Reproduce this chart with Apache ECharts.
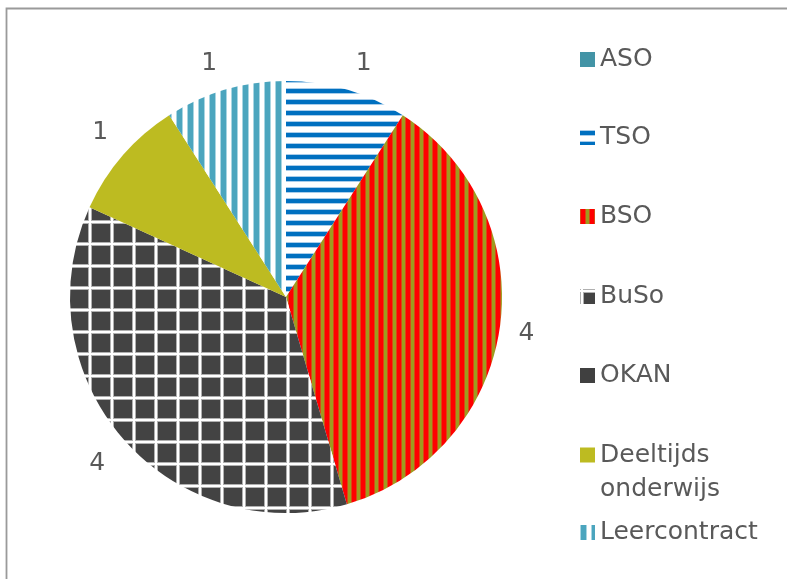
<!DOCTYPE html>
<html><head><meta charset="utf-8">
<script src="https://cdn.jsdelivr.net/npm/echarts@6/dist/echarts.min.js"></script>
<style>html,body{margin:0;padding:0;background:#fff}#c{width:787px;height:579px}</style>
</head><body><div id="c"></div>
<script>
// ---- data ----
const categories = ['ASO', 'TSO', 'BSO', 'BuSo', 'OKAN', 'Deeltijds onderwijs', 'Leercontract'];
const values = [0, 1, 4, 4, 0, 1, 1];
const legendLabels = ['ASO', 'TSO', 'BSO', 'BuSo', 'OKAN', ' \nDeeltijds\nonderwijs', 'Leercontract'];

// ---- patterns ----
function pat(w, h, draw) {
  const c = document.createElement('canvas');
  c.width = w; c.height = h;
  const g = c.getContext('2d');
  draw(g, w, h);
  return { image: c, repeat: 'repeat' };
}
const tsoPat = pat(8, 11, (g, w) => {
  g.fillStyle = '#fff'; g.fillRect(0, 0, w, 11);
  g.fillStyle = '#a9cdea'; g.fillRect(0, 0, w, 1); g.fillRect(0, 5, w, 1);
  g.fillStyle = '#0070C0'; g.fillRect(0, 1, w, 4);
});
const bsoPat = pat(9, 4, (g, w, h) => {
  g.fillStyle = '#9E9C1E'; g.fillRect(0, 0, w, h);
  g.fillStyle = '#FF0000'; g.fillRect(1, 0, 4, h);
  g.fillStyle = '#d84a14'; g.fillRect(0, 0, 1, h); g.fillRect(5, 0, 1, h);
});
const busoPat = pat(22, 22, (g) => {
  g.fillStyle = '#434343'; g.fillRect(0, 0, 22, 22);
  g.fillStyle = '#b0b0b0'; g.fillRect(0, 0, 4, 22); g.fillRect(0, 0, 22, 4);
  g.fillStyle = '#ffffff'; g.fillRect(1, 0, 2, 22); g.fillRect(0, 1, 22, 2);
});
const leerPat = pat(11, 4, (g, w, h) => {
  g.fillStyle = '#fff'; g.fillRect(0, 0, w, h);
  g.fillStyle = '#a8d5e2'; g.fillRect(0, 0, 1, h); g.fillRect(6, 0, 1, h);
  g.fillStyle = '#4BA5BE'; g.fillRect(1, 0, 5, h);
});
const fills = ['#4394A6', tsoPat, bsoPat, busoPat, '#404040', '#BDBB21', leerPat];

const FONT = 'DejaVu Sans';
const TXT = '#595959';

// small per-label nudges (layout only) to mimic the original label placement
const labelNudge = [[0, 0], [7, 7], [-8, 1], [1, 2], [0, 0], [4, 0], [-6, 7]];

const pieData = categories.map((n, i) => ({ name: n, value: values[i], itemStyle: { color: fills[i] } }));
const labelData = categories.map((n, i) => ({ name: n, value: values[i],
  label: { show: values[i] > 0, offset: labelNudge[i] } }));

const legendCenters = [59.5, 137.5, 216.5, 296.5, 375.5, 455, 532.5];
const legends = categories.map((n, i) => {
  const lines = legendLabels[i].split('\n').length;
  const lh = lines > 1 ? 34 : 30;
  const half = lines * lh / 2;
  return {
    orient: 'vertical', left: 580, top: legendCenters[i] - half, padding: 0,
    itemWidth: 15, itemHeight: 15, selectedMode: false, icon: 'rect',
    data: [n],
    formatter: () => legendLabels[i],
    textStyle: { fontFamily: FONT, fontSize: 25, color: TXT, lineHeight: lh }
  };
});

const chart = echarts.init(document.getElementById('c'), null, { renderer: 'canvas' });
chart.setOption({
  animation: false,
  backgroundColor: '#fff',
  legend: legends,
  graphic: [{
    type: 'polyline', silent: true,
    shape: { points: [[6.5, 600], [6.5, 8.5], [800, 8.5]] },
    style: { stroke: '#9a9a9a', lineWidth: 1.8, fill: null }
  }],
  series: [
    {
      type: 'pie', center: [286, 297], radius: [0, 216], startAngle: 90, clockwise: true,
      data: pieData, label: { show: false }, labelLine: { show: false },
      emphasis: { disabled: true }, silent: true
    },
    {
      type: 'pie', center: [286, 297], radius: [238, 258], startAngle: 90, clockwise: true,
      data: labelData, itemStyle: { color: 'rgba(0,0,0,0)' },
      label: { position: 'inside', formatter: '{c}', fontFamily: FONT, fontSize: 25, color: TXT },
      labelLine: { show: false }, emphasis: { disabled: true }, silent: true
    }
  ]
});
</script></body></html>
